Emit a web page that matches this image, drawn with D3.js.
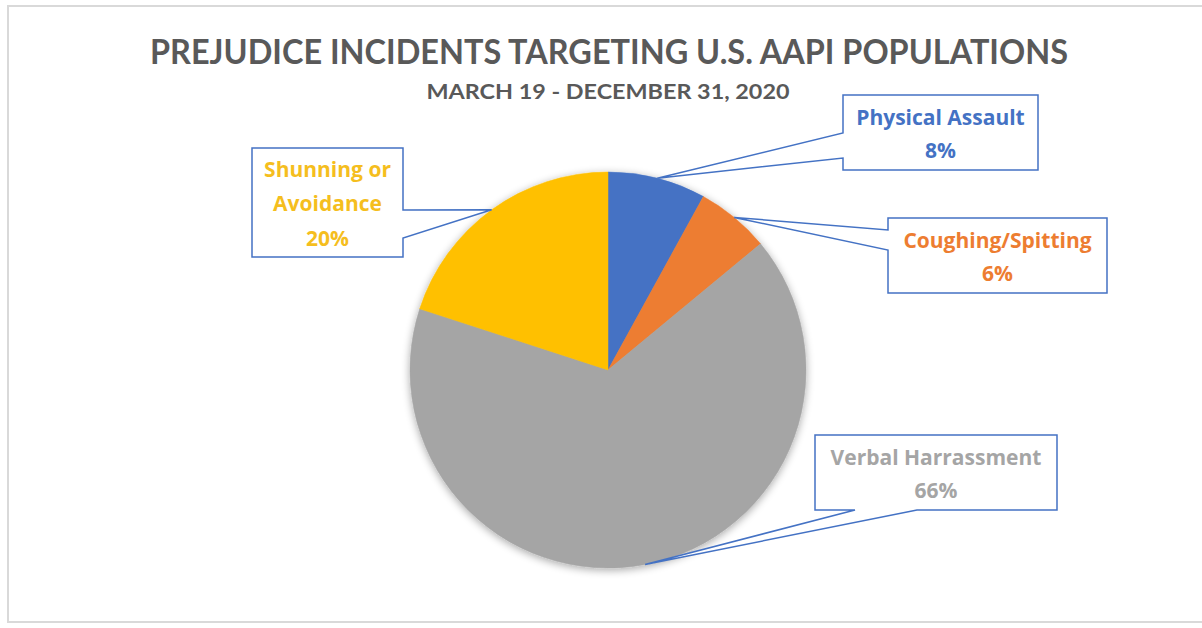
<!DOCTYPE html>
<html>
<head>
<meta charset="utf-8">
<script src="https://cdn.jsdelivr.net/npm/d3@7"></script>
<style>
  html, body { margin: 0; padding: 0; background: #fff; }
  svg { display: block; font-family: Lato, "Open Sans", sans-serif; }
</style>
</head>
<body>
<svg id="chart" width="1202" height="628"></svg>
<script>
const title = "PREJUDICE INCIDENTS TARGETING U.S. AAPI POPULATIONS";
const subtitle = "MARCH 19 - DECEMBER 31, 2020";
const categories = ["Physical Assault", "Coughing/Spitting", "Verbal Harrassment", "Shunning or Avoidance"];
const values = [8, 6, 66, 20];
const colors = ["#4472C4", "#ED7D31", "#A5A5A5", "#FFC000"];
const labelColors = ["#4472C4", "#ED7D31", "#A5A5A5", "#F5BE1E"];
const labelLines = [["Physical Assault"], ["Coughing/Spitting"], ["Verbal Harrassment"], ["Shunning or", "Avoidance"]];

// callout layout: box rect + side of pointer and its two base points
const callouts = [
  {x: 843, y: 95,  w: 195, h: 75,  side: "left",   b1: 133, b2: 158, lh: 33},
  {x: 888, y: 218, w: 219, h: 75,  side: "left",   b1: 230, b2: 250, lh: 33},
  {x: 815, y: 435, w: 242, h: 75,  side: "bottom", b1: 855, b2: 917, lh: 33},
  {x: 252, y: 148, w: 151, h: 109, side: "right",  b1: 210, b2: 238, lh: 34.5}
];

const svg = d3.select("#chart");

// outer frame
svg.append("rect").attr("x", 8).attr("y", 6).attr("width", 1200).attr("height", 616)
  .attr("fill", "#fff").attr("stroke", "#d9d9d9").attr("stroke-width", 2);

// titles
svg.append("text").attr("x", 609).attr("y", 64).attr("text-anchor", "middle")
  .attr("font-size", 35).attr("font-weight", 700).attr("fill", "#595959")
  .attr("textLength", 918).attr("lengthAdjust", "spacingAndGlyphs").text(title);
svg.append("text").attr("x", 608).attr("y", 99).attr("text-anchor", "middle")
  .attr("font-size", 21).attr("font-weight", 700).attr("fill", "#595959")
  .attr("textLength", 363).attr("lengthAdjust", "spacingAndGlyphs").text(subtitle);

// shadow filter
const defs = svg.append("defs");
const f = defs.append("filter").attr("id", "shadow").attr("x", "-20%").attr("y", "-20%").attr("width", "140%").attr("height", "140%");
f.append("feGaussianBlur").attr("in", "SourceAlpha").attr("stdDeviation", 4).attr("result", "b");
f.append("feOffset").attr("in", "b").attr("dx", 0).attr("dy", 2).attr("result", "o");
f.append("feComponentTransfer").attr("in", "o").attr("result", "s")
  .append("feFuncA").attr("type", "linear").attr("slope", 0.35);
const m = f.append("feMerge");
m.append("feMergeNode").attr("in", "s");
m.append("feMergeNode").attr("in", "SourceGraphic");

const cx = 608, cy = 370, R = 198;
const data = categories.map((c, i) => ({cat: c, value: values[i], i}));
const pie = d3.pie().value(d => d.value).sort(null);
const arcs = pie(data);
const arc = d3.arc().innerRadius(0).outerRadius(R);

const g = svg.append("g").attr("transform", `translate(${cx},${cy})`);
const slices = g.append("g").attr("filter", "url(#shadow)");
slices.selectAll("path").data(arcs).join("path")
  .attr("d", arc)
  .attr("fill", d => colors[d.data.i])
  .attr("stroke", d => colors[d.data.i])
  .attr("stroke-width", 0.5);

// callouts
arcs.forEach(a => {
  const i = a.data.i;
  const c = callouts[i];
  const mid = (a.startAngle + a.endAngle) / 2;
  const tx = cx + R * Math.sin(mid), ty = cy - R * Math.cos(mid);
  const x0 = c.x, y0 = c.y, x1 = c.x + c.w, y1 = c.y + c.h;
  let pts;
  if (c.side === "left") {
    pts = [[x0, y0], [x1, y0], [x1, y1], [x0, y1], [x0, c.b2], [tx, ty], [x0, c.b1]];
  } else if (c.side === "right") {
    pts = [[x0, y0], [x1, y0], [x1, c.b1], [tx, ty], [x1, c.b2], [x1, y1], [x0, y1]];
  } else {
    pts = [[x0, y0], [x1, y0], [x1, y1], [c.b2, y1], [tx, ty], [c.b1, y1], [x0, y1]];
  }
  svg.append("path").attr("d", "M" + pts.map(p => p.join(",")).join("L") + "Z")
    .attr("fill", "#fff").attr("stroke", "#4472C4").attr("stroke-width", 1.5)
    .attr("stroke-linejoin", "miter");
  const lines = labelLines[i].concat([values[i] + "%"]);
  const lh = c.lh;
  const midX = (x0 + x1) / 2;
  const firstY = (y0 + y1) / 2 - (lines.length - 1) * lh / 2 + 1.5;
  const t = svg.append("text").attr("text-anchor", "middle")
    .style("font-family", "'Open Sans', sans-serif")
    .attr("font-size", 21).attr("font-weight", 700).attr("fill", labelColors[i]);
  lines.forEach((ln, k) => {
    t.append("tspan").attr("x", midX).attr("y", firstY + k * lh).attr("dy", "0.35em").text(ln);
  });
});
</script>
</body>
</html>
